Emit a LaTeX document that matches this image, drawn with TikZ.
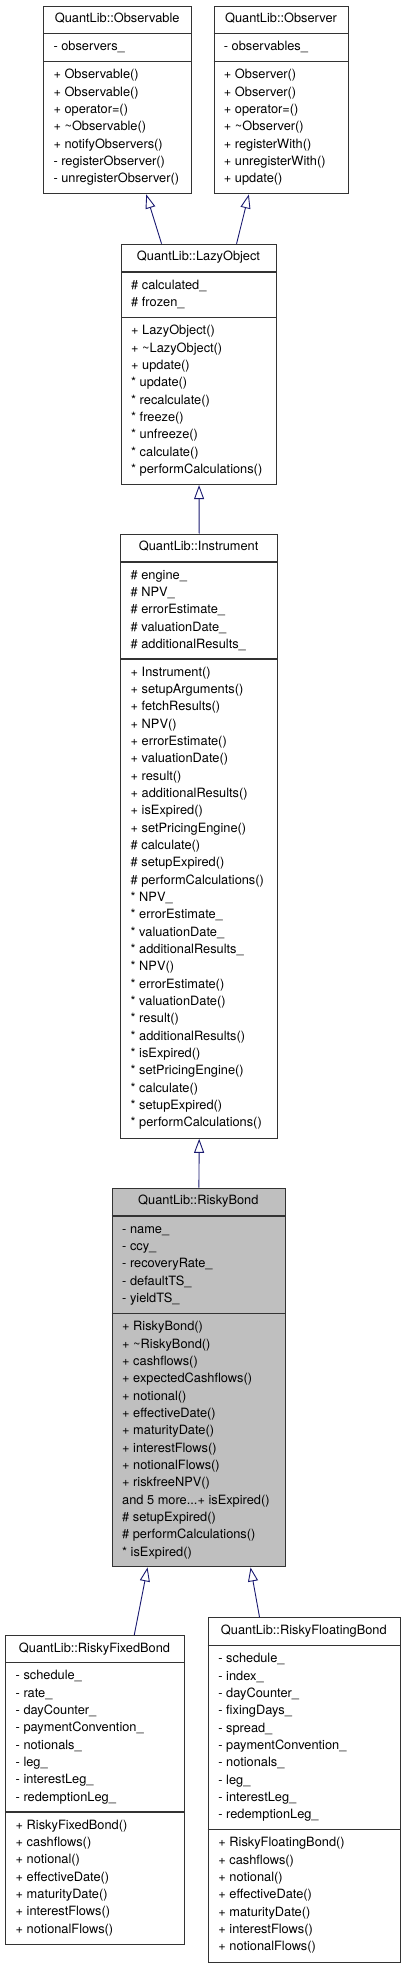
\documentclass[tikz,border=0pt]{standalone}
\usepackage{fontspec}
\setmainfont{TeX Gyre Heros}
\usepackage{xcolor}
\usepackage{tikz}
\usetikzlibrary{arrows.meta, calc}

\definecolor{boxgray}{HTML}{333333}
\definecolor{edgeblue}{HTML}{191970}
\definecolor{curfill}{HTML}{BFBFBF}

\tikzset{
  classbox/.style={draw=boxgray, line width=1.1pt, anchor=north west, inner sep=0pt},
  sepline/.style={draw=boxgray, line width=1.1pt},
  classname/.style={anchor=base, inner sep=0pt},
  member/.style={anchor=base west, inner sep=0pt},
  inherit/.style={draw=edgeblue, line width=0.9pt, -{Triangle[open, length=14pt, width=10pt]}}
}

\begin{document}
\begin{tikzpicture}[x=1pt, y=-1pt, font=\fontsize{12.8}{17.33}\selectfont]

\useasboundingbox (0,0) rectangle (405,1968);

% QuantLib::Observable
\node[classbox, minimum width=147.7pt, minimum height=187.6pt] (observable) at (43.3,5.7) {};
\draw[sepline] (43.3,33.7) -- (191,33.7);
\draw[sepline] (43.3,61.7) -- (191,61.7);
\node[classname] (observable-t) at (117.15,22.9) {QuantLib::Observable};
\foreach \m [count=\i] in {{- observers\_}}
  \node[member] (observable-a\i) at (53.3,{33.7+17.33*\i-0.13}) {\m};
\foreach \m [count=\i] in {{+ Observable()},{+ Observable()},{+ operator=()},
    {+ \textasciitilde Observable()},{+ notifyObservers()},{- registerObserver()},
    {- unregisterObserver()}}
  \node[member] (observable-m\i) at (53.3,{61.7+17.33*\i-0.13}) {\m};

% QuantLib::Observer
\node[classbox, minimum width=134.6pt, minimum height=187.6pt] (observer) at (213.7,5.7) {};
\draw[sepline] (213.7,33.7) -- (348.3,33.7);
\draw[sepline] (213.7,61.7) -- (348.3,61.7);
\node[classname] (observer-t) at (281,22.9) {QuantLib::Observer};
\foreach \m [count=\i] in {{- observables\_}}
  \node[member] (observer-a\i) at (223.7,{33.7+17.33*\i-0.13}) {\m};
\foreach \m [count=\i] in {{+ Observer()},{+ Observer()},{+ operator=()},
    {+ \textasciitilde Observer()},{+ registerWith()},{+ unregisterWith()},{+ update()}}
  \node[member] (observer-m\i) at (223.7,{61.7+17.33*\i-0.13}) {\m};

% QuantLib::LazyObject
\node[classbox, minimum width=155pt, minimum height=240.3pt] (lazyobject) at (121,243.7) {};
\draw[sepline] (121,272) -- (276,272);
\draw[sepline] (121,317.7) -- (276,317.7);
\node[classname] (lazyobject-t) at (198.5,260.9) {QuantLib::LazyObject};
\foreach \m [count=\i] in {{\# calculated\_},{\# frozen\_}}
  \node[member] (lazyobject-a\i) at (131,{272+17.33*\i-0.13}) {\m};
\foreach \m [count=\i] in {{+ LazyObject()},{+ \textasciitilde LazyObject()},{+ update()},
    {* update()},{* recalculate()},{* freeze()},{* unfreeze()},{* calculate()},
    {* performCalculations()}}
  \node[member] (lazyobject-m\i) at (131,{317.7+17.33*\i-0.13}) {\m};

% QuantLib::Instrument
\node[classbox, minimum width=157.3pt, minimum height=604pt] (instrument) at (120,533.7) {};
\draw[sepline] (120,562) -- (277.3,562);
\draw[sepline] (120,659) -- (277.3,659);
\node[classname] (instrument-t) at (198.65,550.9) {QuantLib::Instrument};
\foreach \m [count=\i] in {{\# engine\_},{\# NPV\_},{\# errorEstimate\_},{\# valuationDate\_},
    {\# additionalResults\_}}
  \node[member] (instrument-a\i) at (130.5,{562+17.33*\i-0.13}) {\m};
\foreach \m [count=\i] in {{+ Instrument()},{+ setupArguments()},{+ fetchResults()},{+ NPV()},
    {+ errorEstimate()},{+ valuationDate()},{+ result()},{+ additionalResults()},
    {+ isExpired()},{+ setPricingEngine()},{\# calculate()},{\# setupExpired()},
    {\# performCalculations()},{* NPV\_},{* errorEstimate\_},{* valuationDate\_},
    {* additionalResults\_},{* NPV()},{* errorEstimate()},{* valuationDate()},{* result()},
    {* additionalResults()},{* isExpired()},{* setPricingEngine()},{* calculate()},
    {* setupExpired()},{* performCalculations()}}
  \node[member] (instrument-m\i) at (130.5,{659+17.33*\i-0.13}) {\m};

% QuantLib::RiskyBond
\node[classbox, fill=curfill, minimum width=173.3pt, minimum height=378.6pt] (riskybond) at (111.7,1187.7) {};
\draw[sepline] (111.7,1216) -- (285,1216);
\draw[sepline] (111.7,1313.7) -- (285,1313.7);
\node[classname] (riskybond-t) at (198.35,1204.9) {QuantLib::RiskyBond};
\foreach \m [count=\i] in {{- name\_},{- ccy\_},{- recoveryRate\_},{- defaultTS\_},{- yieldTS\_}}
  \node[member] (riskybond-a\i) at (122,{1216+17.33*\i-0.13}) {\m};
\foreach \m [count=\i] in {{+ RiskyBond()},{+ \textasciitilde RiskyBond()},{+ cashflows()},
    {+ expectedCashflows()},{+ notional()},{+ effectiveDate()},{+ maturityDate()},
    {+ interestFlows()},{+ notionalFlows()},{+ riskfreeNPV()},{and 5 more.{}.{}.+ isExpired()},
    {\# setupExpired()},{\# performCalculations()},{* isExpired()}}
  \node[member] (riskybond-m\i) at (122,{1313.7+17.33*\i-0.13}) {\m};

% QuantLib::RiskyFixedBond
\node[classbox, minimum width=179pt, minimum height=309pt] (riskyfixed) at (5,1635) {};
\draw[sepline] (5,1662.7) -- (184,1662.7);
\draw[sepline] (5,1812) -- (184,1812);
\node[classname] (riskyfixed-t) at (94.5,1652.2) {QuantLib::RiskyFixedBond};
\foreach \m [count=\i] in {{- schedule\_},{- rate\_},{- dayCounter\_},{- paymentConvention\_},
    {- notionals\_},{- leg\_},{- interestLeg\_},{- redemptionLeg\_}}
  \node[member] (riskyfixed-a\i) at (15.5,{1662.7+17.33*\i-0.13}) {\m};
\foreach \m [count=\i] in {{+ RiskyFixedBond()},{+ cashflows()},{+ notional()},
    {+ effectiveDate()},{+ maturityDate()},{+ interestFlows()},{+ notionalFlows()}}
  \node[member] (riskyfixed-m\i) at (15.5,{1812+17.33*\i-0.13}) {\m};

% QuantLib::RiskyFloatingBond
\node[classbox, minimum width=192.3pt, minimum height=344.4pt] (riskyfloating) at (207.7,1617.3) {};
\draw[sepline] (207.7,1645.7) -- (400,1645.7);
\draw[sepline] (207.7,1829.7) -- (400,1829.7);
\node[classname] (riskyfloating-t) at (303.85,1634.5) {QuantLib::RiskyFloatingBond};
\foreach \m [count=\i] in {{- schedule\_},{- index\_},{- dayCounter\_},{- fixingDays\_},
    {- spread\_},{- paymentConvention\_},{- notionals\_},{- leg\_},{- interestLeg\_},
    {- redemptionLeg\_}}
  \node[member] (riskyfloating-a\i) at (218.2,{1645.7+17.33*\i-0.13}) {\m};
\foreach \m [count=\i] in {{+ RiskyFloatingBond()},{+ cashflows()},{+ notional()},
    {+ effectiveDate()},{+ maturityDate()},{+ interestFlows()},{+ notionalFlows()}}
  \node[member] (riskyfloating-m\i) at (218.2,{1829.7+17.33*\i-0.13}) {\m};

% Herencia
\draw[inherit] ($(lazyobject.north)+(-37.5,0)$) -- ($(observable.south)+(28.55,0)$);
\draw[inherit] ($(lazyobject.north)+(37.5,0)$) -- ($(observer.south)+(-32.7,0)$);
\draw[inherit] (instrument.north) -- (lazyobject.south);
\draw[inherit] (riskybond.north) -- (instrument.south);
\draw[inherit] ($(riskyfixed.north)+(39.2,0)$) -- ($(riskybond.south)+(-51.35,0)$);
\draw[inherit] ($(riskyfloating.north)+(-44.85,0)$) -- ($(riskybond.south)+(51.65,0)$);

\end{tikzpicture}
\end{document}
